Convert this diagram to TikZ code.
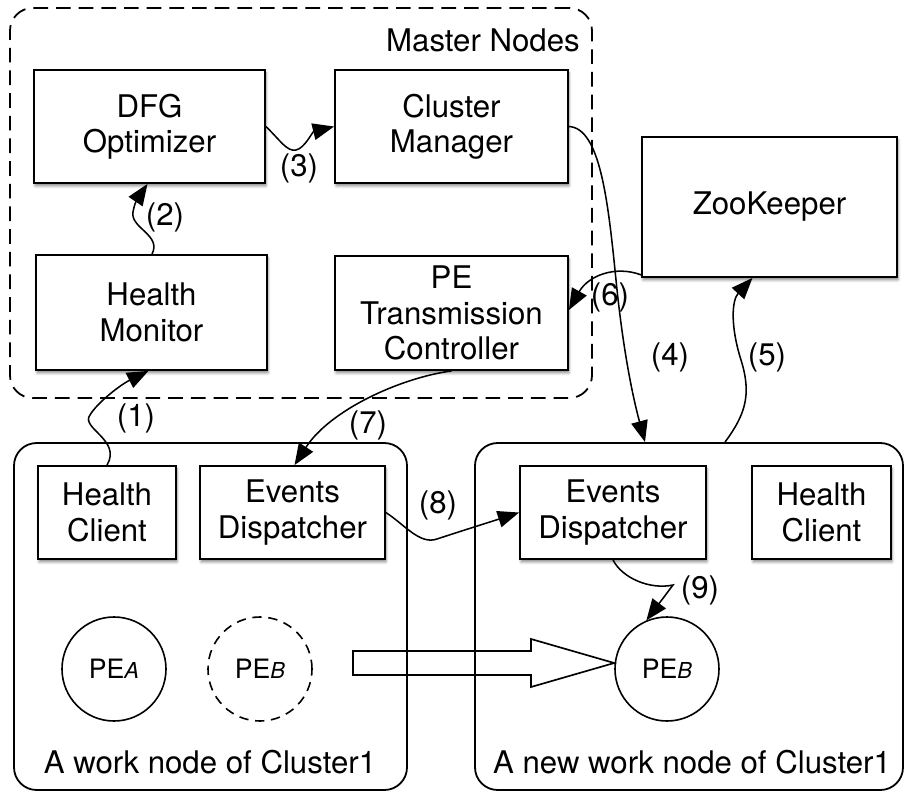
\documentclass[tikz,border=0pt]{standalone}
\usepackage{fontspec}
\setmainfont{TeX Gyre Heros}
\usetikzlibrary{arrows.meta,calc,shadows.blur}
\newcommand\pesub[1]{{\fontsize{16.5}{16.5}\selectfont\itshape #1}}
\begin{document}
\begin{tikzpicture}[x=0.75pt,y=-0.75pt,
  every node/.style={font=\fontsize{23.4}{26.5}\selectfont},
  box/.style={draw, line width=1.35pt, fill=white, align=center, inner sep=0pt,
    blur shadow={shadow xshift=0.8pt, shadow yshift=-2.2pt,
                 shadow blur radius=2pt, shadow opacity=45}},
  group/.style={draw, line width=1.35pt, rounded corners=17pt, inner sep=0pt},
  pe/.style={draw, circle, line width=1.2pt, minimum size=78pt, inner sep=0pt,
    font=\fontsize{20}{22}\selectfont},
  flow/.style={line width=1.15pt, -{Triangle[length=16pt,width=12.5pt]}},
  steplabel/.style={inner sep=0pt},
  hollow/.style={draw, line width=1.25pt, line join=miter}
]
\useasboundingbox (0,0) rectangle (907,793);

% master group
\node[group, dashed, dash pattern=on 11pt off 6pt,
      minimum width=436.5pt, minimum height=292.5pt] (master) at (301,203) {};
\node[anchor=east, inner sep=0pt] (mlabel) at (580,40) {Master Nodes};

% work node groups
\node[group, minimum width=294.75pt, minimum height=260.25pt] (lc) at (210.5,616.5) {};
\node[group, minimum width=321pt, minimum height=260.25pt] (rc) at (689,616.5) {};
\node[inner sep=0pt] (lcl) at (210,762) {A work node of Cluster1};
\node[inner sep=0pt] (rcl) at (692,762) {A new work node of Cluster1};

% master components
\node[box, minimum width=173.25pt, minimum height=84.75pt] (dfg) at (149.5,126.5) {DFG\\Optimizer};
\node[box, minimum width=174.75pt, minimum height=84.75pt] (cm) at (451.5,126.5) {Cluster\\Manager};
\node[box, minimum width=173.25pt, minimum height=86.25pt] (hm) at (151.5,312.5) {Health\\Monitor};
\node[box, minimum width=174.75pt, minimum height=85.5pt] (ptc) at (451.5,313) {PE\\Transmission\\Controller};
\node[box, minimum width=191.25pt, minimum height=105pt] (zk) at (769.5,207) {ZooKeeper};

% work node components
\node[box, minimum width=103.5pt, minimum height=69.75pt] (hcl) at (107,512.5) {Health\\Client};
\node[box, minimum width=138.75pt, minimum height=69.75pt] (edl) at (292.5,512.5) {Events\\Dispatcher};
\node[box, minimum width=139.5pt, minimum height=69.75pt] (edr) at (613,512.5) {Events\\Dispatcher};
\node[box, minimum width=104.25pt, minimum height=69.75pt] (hcr) at (821.5,512.5) {Health\\Client};

% processing elements
\node[pe] (pea) at (114,669) {PE\pesub{A}};
\node[pe, dashed, dash pattern=on 7pt off 5pt] (peb) at (260,669) {PE\pesub{B}};
\node[pe] (pebn) at (667,669) {PE\pesub{B}};

% migration arrow
\coordinate (tip) at ($(pebn.west)+(0,-6)$);
\draw[hollow] (353,651) -- (531,651) -- (531,639) -- (tip) -- (531,687)
  -- (531,675) -- (353,675) -- cycle;

% numbered steps
\draw[flow] (hcl.north) .. controls (122,440) and (80,428) .. (90,415)
  .. controls (97,403) and (120,385) .. ($(hm.south)+(-3,0)$);
\node[steplabel] (l1) at (136,418) {(1)};

\draw[flow] ($(hm.north)+(0.5,0)$) .. controls (162,235) and (130,228) .. (133,212)
  .. controls (135,200) and (140,195) .. ($(dfg.south)+(-2,0)$);
\node[steplabel] (l2) at (165,217) {(2)};

\draw[flow] (dfg.east) .. controls (280,140) and (287,152) .. (296,150)
  .. controls (305,148) and (312,132) .. (cm.west);
\node[steplabel] (l3) at (299,168) {(3)};

\draw[flow] (cm.east) .. controls (600,128) and (608,200) .. (616,280)
  .. controls (624,360) and (635,405) .. ($(rc.north)+(-44,0)$);
\node[steplabel] (l4) at (670,357) {(4)};

\draw[flow] ($(rc.north)+(36,0)$) .. controls (745,415) and (752,395) .. (741,360)
  .. controls (730,325) and (732,300) .. ($(zk.south)+(-17,0)$);
\node[steplabel] (l5) at (767,357) {(5)};

\draw[flow] ($(zk.south west)+(0,-3)$) .. controls (615,265) and (588,276) .. ($(ptc.east)+(0,-3)$);
\node[steplabel] (l6) at (610,297) {(6)};

\draw[flow] (ptc.south) .. controls (400,378) and (330,410) .. ($(edl.north)+(2,0)$);
\node[steplabel] (l7) at (368,425) {(7)};

\draw[flow] (edl.east) .. controls (405,525) and (420,545) .. (437,539)
  .. controls (455,533) and (490,522) .. (edr.west);
\node[steplabel] (l8) at (438,505) {(8)};

\draw[flow] (edr.south) .. controls (622,578) and (650,590) .. (673,585) -- (pebn.113);
\node[steplabel] (l9) at (700,590) {(9)};
\end{tikzpicture}
\end{document}
